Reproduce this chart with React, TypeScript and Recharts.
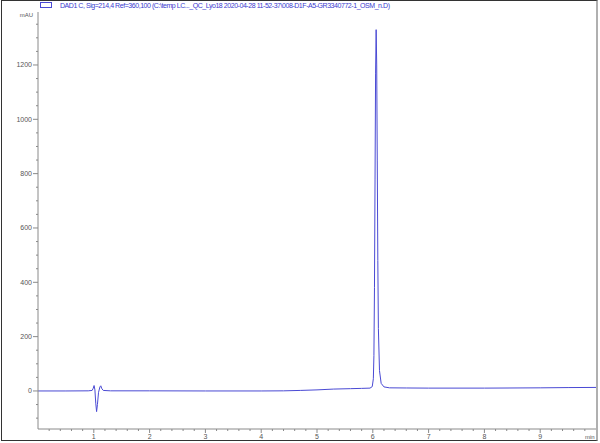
import { Line, LineChart, XAxis, YAxis } from "recharts";

// retention time (min) and detector signal (mAU)
const times = [
  0, 0.5, 0.9, 0.97, 0.99, 1.005, 1.02, 1.035, 1.05, 1.065, 1.085, 1.11, 1.125, 1.145, 1.17, 1.3,
  2, 3, 4, 4.4, 4.7, 5.0, 5.3, 5.6, 5.8, 5.95, 5.99, 6.01, 6.02, 6.03, 6.04, 6.05, 6.06, 6.07,
  6.08, 6.09, 6.1, 6.12, 6.15, 6.2, 6.3, 6.6, 7, 8, 9, 9.5, 10,
];
const signal = [
  0, 0, 0.5, 2, 10, 20, 4, -45, -76, -50, -5, 15, 19, 8, 2, 0.5,
  0.5, 0, 0, 0.5, 2, 4, 7, 8.5, 9.5, 10.5, 16, 45, 130, 380, 780, 1170, 1330, 1200,
  850, 480, 230, 75, 28, 15, 11.5, 11, 10.5, 10.5, 11.5, 12.5, 13,
];

const yLabels = [0, 200, 400, 600, 800, 1000, 1200];
const xLabels = [1, 2, 3, 4, 5, 6, 7, 8, 9];
const yTicks = Array.from({ length: 30 }, (_, i) => -100 + i * 50);
const xTicks = Array.from({ length: 49 }, (_, i) => Math.round((0.2 + i * 0.2) * 10) / 10);

const legendText =
  "DAD1 C, Sig=214,4 Ref=360,100 (C:\\temp LC..._QC_Lyo18 2020-04-28 11-52-37\\008-D1F-A5-GR3340772-1_OSM_n.D)";

const data = times.map((t, i) => ({ t, v: signal[i] }));

const AXIS = "#8a8a8a";
const TEXT = "#555";
const LINE = "#4a4ad4";
const FONT = "'Liberation Sans', Arial, sans-serif";

const YTick = (props: any) => {
  const { x, y, payload } = props;
  const major = yLabels.includes(payload.value);
  return (
    <g>
      <line x1={x - (major ? 5 : 2)} x2={x} y1={y} y2={y} stroke={AXIS} />
      {major && (
        <text x={x - 6} y={y} dy={2.5} textAnchor="end" fontSize={7} fill={TEXT} fontFamily={FONT}>
          {payload.value}
        </text>
      )}
    </g>
  );
};

const XTick = (props: any) => {
  const { x, y, payload } = props;
  const major = xLabels.includes(payload.value);
  return (
    <g>
      <line x1={x} x2={x} y1={y} y2={y + (major ? 4 : 2)} stroke={AXIS} />
      {major && (
        <text x={x} y={y + 10} textAnchor="middle" fontSize={7} fill={TEXT} fontFamily={FONT}>
          {payload.value}
        </text>
      )}
    </g>
  );
};

export default function App() {
  return (
    <div style={{ position: "absolute", left: 0, top: 0, width: 600, height: 443, background: "#fff" }}>
      <LineChart width={600} height={443} data={data} margin={{ top: 12, right: 4, left: 0, bottom: 0 }}>
        <XAxis
          dataKey="t"
          type="number"
          domain={[0, 10]}
          ticks={xTicks}
          interval={0}
          height={14}
          tickSize={0}
          tickMargin={0}
          tickLine={false}
          stroke={AXIS}
          tick={<XTick />}
        />
        <YAxis
          type="number"
          domain={[-140, 1395]}
          ticks={yTicks}
          interval={0}
          width={38}
          tickSize={0}
          tickMargin={0}
          tickLine={false}
          stroke={AXIS}
          tick={<YTick />}
          allowDataOverflow
        />
        <Line
          type="linear"
          dataKey="v"
          stroke={LINE}
          strokeWidth={1}
          dot={false}
          isAnimationActive={false}
        />
      </LineChart>
      <svg width={600} height={443} style={{ position: "absolute", left: 0, top: 0, pointerEvents: "none" }}>
        <rect x={40.5} y={2.5} width={11} height={5} fill="none" stroke={LINE} />
        <text x={60} y={7.5} fontSize={7} fill="#3a3ad0" fontFamily={FONT} textLength={330}>
          {legendText}
        </text>
        <text x={33} y={17} fontSize={6} fill={TEXT} textAnchor="end" fontFamily={FONT}>
          mAU
        </text>
        <text x={585} y={439} fontSize={6} fill={TEXT} fontFamily={FONT}>
          min
        </text>
      </svg>
      <div
        style={{
          position: "absolute",
          left: 1,
          top: 0,
          width: 597,
          height: 441,
          boxSizing: "border-box",
          border: "1px solid #333",
          borderRight: "2px solid #b0b0b0",
          pointerEvents: "none",
        }}
      />
    </div>
  );
}
